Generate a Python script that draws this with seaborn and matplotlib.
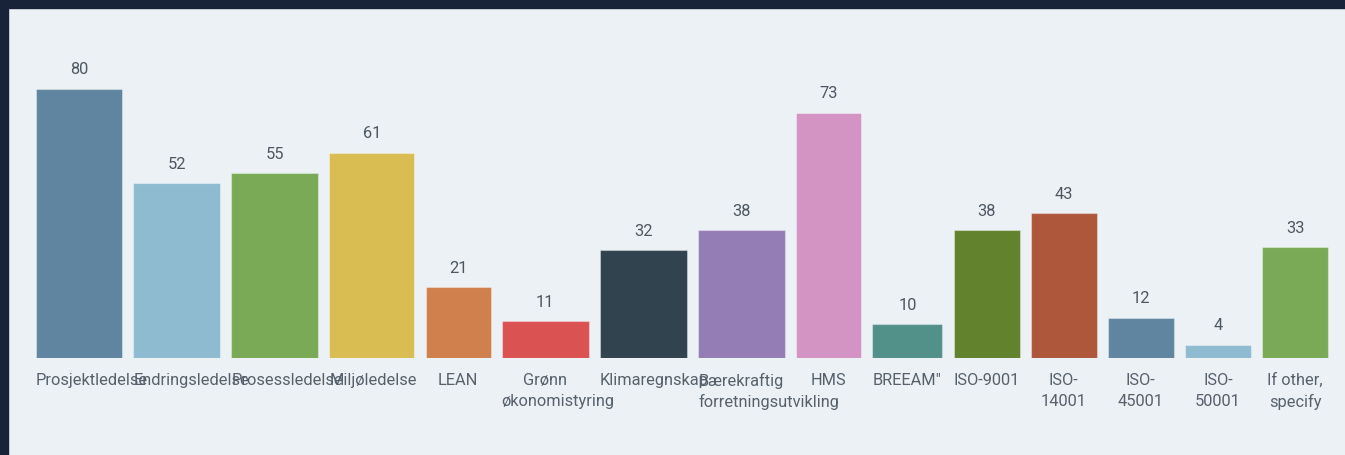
import numpy as np
import matplotlib
matplotlib.use("Agg")
import matplotlib.pyplot as plt
from matplotlib.patches import Rectangle
import seaborn as sns

categories = [
    "Prosjektledelse", "Endringsledelse", "Prosessledelse", "Miljøledelse", "LEAN",
    "Grønn økonomistyring", "Klimaregnskap", "Bærekraftig forretningsutvikling", "HMS",
    "BREEAM\"", "ISO-9001", "ISO-14001", "ISO-45001", "ISO-50001", "If other, specify",
]
values = [80, 52, 55, 61, 21, 11, 32, 38, 73, 10, 38, 43, 12, 4, 33]
tick_labels = [
    "Prosjektledelse", "Endringsledelse", "Prosessledelse", "Miljøledelse", "LEAN",
    "Grønn\nøkonomistyring", "Klimaregnskap", "Bærekraftig\nforretningsutvikling", "HMS",
    "BREEAM\"", "ISO-9001", "ISO-\n14001", "ISO-\n45001", "ISO-\n50001", "If other,\nspecify",
]
bar_colors = [
    "#6085a0", "#8fbbd1", "#7aaa56", "#d9bd52", "#d0804c", "#da5252", "#30434f", "#947db5",
    "#d394c4", "#52918a", "#62822e", "#ae573b", "#6085a0", "#8fbbd1", "#7aaa56",
]

# layout (pixels): the source chart sizes each bar after its label
bar_widths = [86, 87, 87, 85, 65, 87, 87, 87, 65, 70, 66, 66, 66, 66, 66]
GAP = 11.15
FIRST_LEFT = 36
W, H = 1345, 456
BASE_Y = 359          # baseline, px from top
PX_PER_UNIT = 3.3625
BG = "#ecf1f5"
FRAME = "#18233a"
FONT_SIZE = 11.8

sns.set_theme(style="white")
plt.rcParams["font.family"] = ["Roboto", "DejaVu Sans"]

fig = plt.figure(figsize=(W / 100, H / 100), dpi=100, facecolor=BG)
# dark frame of the surrounding page
fig.add_artist(Rectangle((0, 1 - 9 / H), 1, 9 / H, transform=fig.transFigure, color=FRAME, zorder=-1))
fig.add_artist(Rectangle((0, 0), 8 / W, 1, transform=fig.transFigure, color=FRAME, zorder=-1))

ax = fig.add_axes([0, (H - BASE_Y) / H, 1, (BASE_Y - 9) / H])
sns.barplot(
    x=categories, y=values, hue=categories, palette=bar_colors, legend=False,
    saturation=1, ax=ax, edgecolor=(1, 1, 1, 0.35), linewidth=0.8,
)

widths = np.array(bar_widths, dtype=float)
lefts = FIRST_LEFT + np.concatenate([[0], np.cumsum(widths[:-1])]) + GAP * np.arange(len(widths))
for cont, left, w in zip(ax.containers, lefts, widths):
    for patch in cont:
        patch.set_x(left)
        patch.set_width(w)

ax.set_xlim(0, W)
ax.set_ylim(0, (BASE_Y - 9) / PX_PER_UNIT)
ax.set_axis_off()

for cont in ax.containers:
    ax.bar_label(cont, padding=9, fontsize=FONT_SIZE, color="#4d5761")

renderer = fig.canvas.get_renderer()
for left, w, label in zip(lefts, widths, tick_labels):
    for i, line in enumerate(label.split("\n")):
        t = ax.annotate(
            line, xy=(left + w / 2, 0), xycoords=("data", "axes fraction"),
            xytext=(0, -10 - i * 15), textcoords="offset points",
            ha="center", va="top", fontsize=FONT_SIZE, color="#56616c",
        )
        # lines wider than the bar start at the bar's left edge
        if t.get_window_extent(renderer).width > w:
            t.xy = (left, 0)
            t.set_ha("left")

fig.savefig("out.png", dpi=100, facecolor=BG)
plt.close()
